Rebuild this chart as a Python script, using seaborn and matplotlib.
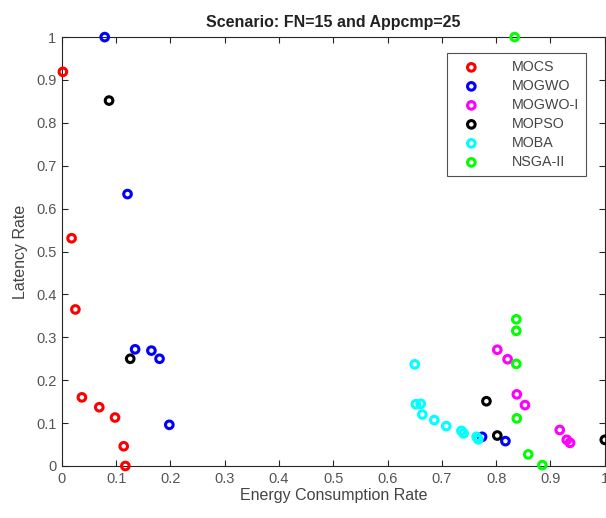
import matplotlib
matplotlib.use("Agg")
import matplotlib.pyplot as plt
import seaborn as sns
import pandas as pd

# ---- data ----
mocs_x = [0.002, 0.018, 0.025, 0.037, 0.069, 0.098, 0.114, 0.117]
mocs_y = [0.919, 0.531, 0.365, 0.160, 0.137, 0.113, 0.046, 0.000]

mogwo_x = [0.079, 0.121, 0.135, 0.165, 0.180, 0.198, 0.774, 0.817]
mogwo_y = [1.000, 0.634, 0.272, 0.269, 0.250, 0.096, 0.068, 0.058]

mogwoi_x = [0.802, 0.821, 0.838, 0.853, 0.917, 0.930, 0.936]
mogwoi_y = [0.271, 0.249, 0.167, 0.142, 0.084, 0.061, 0.054]

mopso_x = [0.087, 0.126, 0.782, 0.802, 1.000]
mopso_y = [0.852, 0.250, 0.151, 0.071, 0.061]

moba_x = [0.650, 0.652, 0.661, 0.664, 0.686, 0.708, 0.736, 0.740, 0.764, 0.767]
moba_y = [0.237, 0.144, 0.145, 0.120, 0.107, 0.093, 0.082, 0.076, 0.068, 0.062]

nsga_x = [0.834, 0.837, 0.837, 0.837, 0.838, 0.859, 0.885]
nsga_y = [1.000, 0.342, 0.315, 0.238, 0.111, 0.027, 0.002]

series_names = ["MOCS", "MOGWO", "MOGWO-I", "MOPSO", "MOBA", "NSGA-II"]
series_x = [mocs_x, mogwo_x, mogwoi_x, mopso_x, moba_x, nsga_x]
series_y = [mocs_y, mogwo_y, mogwoi_y, mopso_y, moba_y, nsga_y]
colors = ["#ff0000", "#0000ff", "#ff00ff", "#000000", "#00ffff", "#00ff00"]

ticks = [0, 0.1, 0.2, 0.3, 0.4, 0.5, 0.6, 0.7, 0.8, 0.9, 1]
tick_labels = ["0", "0.1", "0.2", "0.3", "0.4", "0.5", "0.6", "0.7", "0.8", "0.9", "1"]

sns.set_style("white")
plt.rcParams["font.family"] = ["Liberation Sans", "DejaVu Sans"]

fig = plt.figure(figsize=(6.06, 5.18), dpi=100)
ax = fig.add_axes([0.102, 0.1004, 0.896, 0.828])

for name, xs, ys, c in zip(series_names, series_x, series_y, colors):
    df = pd.DataFrame({"x": xs, "y": ys})
    sns.scatterplot(data=df, x="x", y="y", ax=ax, marker="o", s=30,
                    facecolor="none", edgecolor=c, linewidth=2.2,
                    label=name, clip_on=False, zorder=3)

ax.set_xlim(0, 1)
ax.set_ylim(0, 1)
ax.set_xticks(ticks)
ax.set_xticklabels(tick_labels)
ax.set_yticks(ticks)
ax.set_yticklabels(tick_labels)
ax.tick_params(direction="in", length=4, width=0.8, colors="#262626",
               labelcolor="#555555", labelsize=10.5, top=True, right=True,
               bottom=True, left=True, pad=4)
for sp in ax.spines.values():
    sp.set_visible(True)
    sp.set_color("#262626")
    sp.set_linewidth(0.8)

ax.set_xlabel("Energy Consumption Rate", fontsize=11.5, color="#444444", labelpad=2)
ax.set_ylabel("Latency Rate", fontsize=11.5, color="#444444", labelpad=6)
ax.set_title("Scenario: FN=15 and Appcmp=25", fontsize=11.5, fontweight="bold",
             color="#222222", pad=7)

leg = ax.legend(loc="upper right", bbox_to_anchor=(0.965, 0.963), frameon=True,
                fancybox=False, edgecolor="#262626", fontsize=10.3,
                handletextpad=1.6, borderpad=0.5, labelspacing=0.35,
                handlelength=2.4, borderaxespad=0)
leg.get_frame().set_linewidth(0.8)
for t in leg.get_texts():
    t.set_color("#444444")

fig.savefig("out.png", dpi=100)
